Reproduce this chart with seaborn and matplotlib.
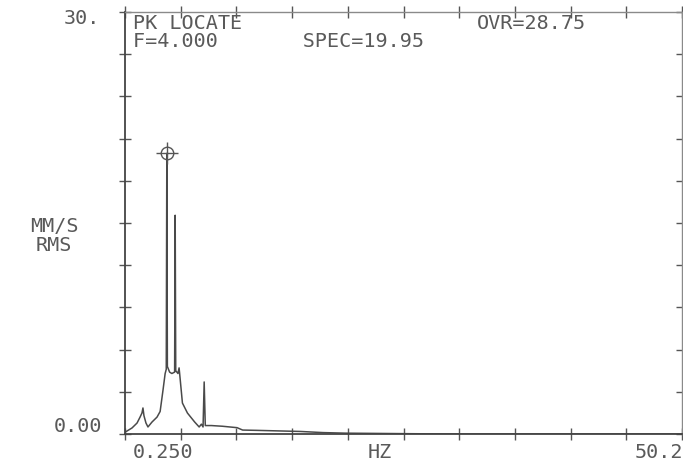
import matplotlib
matplotlib.use("Agg")
import matplotlib.pyplot as plt
import seaborn as sns
import numpy as np
import pandas as pd

# Spectrum (Hz, mm/s RMS)
freq_hz = [0.30, 0.88, 1.33, 1.60, 1.77, 1.86, 1.95, 2.13, 2.31, 2.67,
           3.12, 3.40, 3.66, 3.85, 3.95, 4.00, 4.05, 4.25, 4.45, 4.70,
           4.75, 4.80, 5.00, 5.10, 5.15, 5.40, 5.85, 6.50, 6.90, 7.10,
           7.25, 7.35, 7.45, 8.00, 9.00, 10.3, 10.8, 12.0, 14.0, 16.0,
           18.0, 20.0, 23.0, 26.0, 30.0, 50.2]
amp_mms = [0.15, 0.43, 0.78, 1.20, 1.49, 1.85, 1.30, 0.78, 0.50, 0.85,
           1.20, 1.60, 3.13, 4.30, 4.60, 19.95, 4.80, 4.40, 4.30, 4.40,
           15.55, 4.50, 4.30, 4.70, 4.30, 2.20, 1.49, 0.85, 0.50, 0.70,
           0.50, 3.70, 0.60, 0.60, 0.55, 0.45, 0.28, 0.26, 0.22, 0.18,
           0.10, 0.06, 0.04, 0.02, 0.00, 0.00]

peak_f = 4.000
peak_amp = 19.95
x_min, x_max = 0.25, 50.2
y_min, y_max = 0.0, 30.0

df = pd.DataFrame({"Hz": freq_hz, "amp": amp_mms})

sns.set_theme(style="white")
plt.rcParams["font.family"] = ["DejaVu Sans Mono", "DejaVu Sans"]

W, H = 683, 462
fig = plt.figure(figsize=(W / 100, H / 100), dpi=100)
ax = fig.add_axes([125 / W, (H - 434) / H, (682 - 125) / W, (434 - 12) / H])

sns.lineplot(data=df, x="Hz", y="amp", ax=ax, color="#4a4a4a", linewidth=1.1,
             estimator=None, sort=False)

# peak locate marker
ax.plot([peak_f], [peak_amp], marker="o", markersize=9, mfc="none",
        mec="#555555", mew=1.0)
ax.plot([peak_f], [peak_amp], marker="+", markersize=16, color="#555555", mew=1.0)

ax.set_xlim(x_min, x_max)
ax.set_ylim(y_min, y_max)
ax.set_xticks(np.linspace(x_min, x_max, 11))
ax.set_yticks(np.linspace(y_min, y_max, 11))
ax.set_xticklabels([])
ax.set_yticklabels([])
ax.set_xlabel("")
ax.set_ylabel("")
ax.tick_params(axis="both", which="both", direction="inout", length=8, width=1,
               color="#555555", top=True, right=True, bottom=True, left=True)

for side in ["left", "bottom"]:
    ax.spines[side].set_color("#444444")
    ax.spines[side].set_linewidth(1.3)
for side in ["top", "right"]:
    ax.spines[side].set_color("#8a8a8a")
    ax.spines[side].set_linewidth(1.0)
    ax.spines[side].set_linestyle((0, (2, 1)))


def put(s, x, y, ha="left", va="baseline", ma="left"):
    # place text by figure pixel position (y measured from the top)
    fig.text(x / W, 1 - y / H, s, ha=ha, va=va, ma=ma, fontsize=14.5,
             color="#5a5a5a", linespacing=0.95)


put("PK LOCATE\nF=4.000       SPEC=19.95", 133, 14, va="top")
put("OVR=28.75", 477, 29)
put("30.", 100, 24, ha="right")
put("0.00", 102, 432, ha="right")
put("MM/S\nRMS", 54, 236, ha="center", va="center", ma="center")
put("0.250", 133, 458)
put("HZ", 368, 458)
put("50.2", 683, 458, ha="right")

fig.savefig("out.png", dpi=100)
